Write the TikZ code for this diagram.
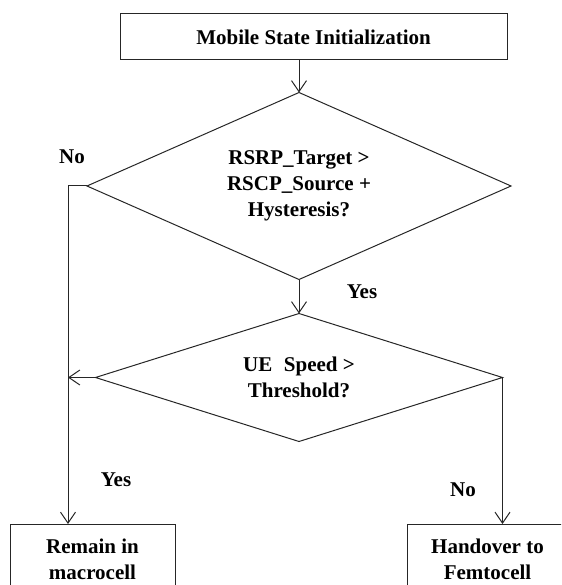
\documentclass[tikz,border=0pt]{standalone}
\usepackage{fontspec}
\setmainfont{Liberation Serif}
\usepackage{tikz}
\usetikzlibrary{shapes.geometric, arrows.meta, positioning}

\begin{document}
\begin{tikzpicture}[
    x=1pt, y=1pt,
    every node/.style={font=\fontsize{21}{26}\selectfont\bfseries},
    box/.style={draw=black!85, line width=1pt, outer sep=0pt, align=center},
    decision/.style={draw=black!85, line width=1pt, diamond, inner sep=0pt, outer sep=0pt, align=center},
    arrow/.style={-{Straight Barb[length=11pt, width=15pt]}, line width=1pt, black!85},
    label/.style={inner sep=0pt},
    node distance=34pt
]
\useasboundingbox (0,0) rectangle (561,-585);
\clip (0,0) rectangle (561,-585);

% Start
\node[box, minimum width=387pt, minimum height=46pt] (init) at (313.5,-37) {Mobile State Initialization};

% Decision 1
\node[decision, minimum width=424pt, minimum height=187pt, aspect=2.27] (dec1) at (299,-186) {
    RSRP\_Target >\\
    RSCP\_Source +\\
    Hysteresis?
};

% Decision 2
\node[decision, minimum width=407pt, minimum height=128pt, aspect=3.18, below=of dec1] (dec2) {
    UE\hspace{0.3em} Speed >\\
    Threshold?
};

% Outcomes
\node[box, minimum width=165pt, minimum height=70pt] (remain) at (92.5,-559) {Remain in\\macrocell};
\node[box, minimum width=161pt, minimum height=70pt] (handover) at (487.5,-559) {Handover to\\Femtocell};

% Labels
\node[label] (no1) at (72,-157) {No};
\node[label] (yes1) at (362,-292) {Yes};
\node[label] (yes2) at (116,-480) {Yes};
\node[label] (no2) at (463,-490) {No};

% Arrows
\coordinate (side) at (68,-186);
\draw[arrow] (init.south -| dec1.north) -- (dec1.north);
\draw[arrow] (dec1.south) -- (dec2.north);
\draw[arrow] (dec1.west) -- (side) -- (side |- remain.north);
\draw[arrow] (dec2.west) -- (side |- dec2.west);
\draw[arrow] (dec2.east) -- (dec2.east |- handover.north);

\end{tikzpicture}
\end{document}
